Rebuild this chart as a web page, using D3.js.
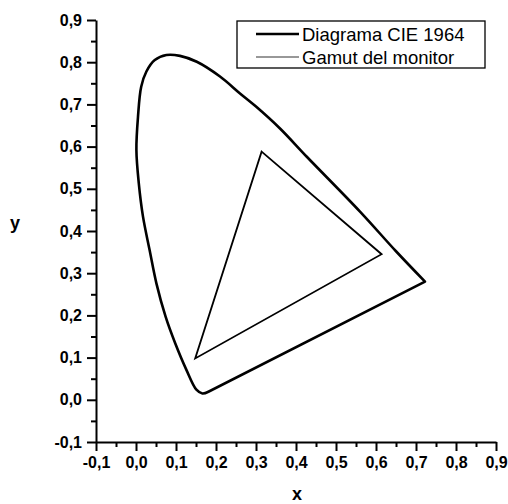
<!DOCTYPE html>
<html><head><meta charset="utf-8">
<script src="https://cdn.jsdelivr.net/npm/d3@7"></script>
<style>body{margin:0;background:#fff}svg{display:block}text{font-family:"Liberation Sans",Arial,sans-serif;fill:#000}</style>
</head><body>
<svg id="c" width="508" height="504"></svg>
<script>
// Spectral locus (CIE 1964), from red end along the top to the blue end
const locusX = [0.7225, 0.65, 0.56, 0.427, 0.36, 0.30, 0.26, 0.21, 0.152, 0.11, 0.076, 0.047, 0.026, 0.013, 0.005, 0.001, 0.007, 0.0175, 0.034, 0.051, 0.074, 0.098, 0.126, 0.151, 0.166, 0.181];
const locusY = [0.280, 0.352, 0.446, 0.576, 0.643, 0.695, 0.726, 0.766, 0.801, 0.815, 0.817, 0.805, 0.778, 0.742, 0.671, 0.592, 0.513, 0.434, 0.355, 0.276, 0.197, 0.134, 0.071, 0.024, 0.015, 0.019];
// Monitor gamut triangle
const gamutX = [0.314, 0.614, 0.148];
const gamutY = [0.588, 0.345, 0.098];
const seriesNames = ["Diagrama CIE 1964", "Gamut del monitor"];
const tickValues = [-0.1, 0.0, 0.1, 0.2, 0.3, 0.4, 0.5, 0.6, 0.7, 0.8, 0.9];
const minorValues = [-0.05, 0.05, 0.15, 0.25, 0.35, 0.45, 0.55, 0.65, 0.75, 0.85];

const svg = d3.select("#c");
const x = d3.scaleLinear().domain([-0.1, 0.9]).range([96, 496]);
const y = d3.scaleLinear().domain([-0.1, 0.9]).range([442, 20]);
const fmt = d => d3.format(".1f")(d).replace(".", ",").replace("−", "-");

// axes
const xAxis = svg.append("g").attr("transform", "translate(0,442)")
  .call(d3.axisBottom(x).tickValues(tickValues).tickFormat(fmt).tickSize(9).tickPadding(6).tickSizeOuter(0));
const yAxis = svg.append("g").attr("transform", "translate(96,0)")
  .call(d3.axisLeft(y).tickValues(tickValues).tickFormat(fmt).tickSize(9).tickPadding(5).tickSizeOuter(0));
[xAxis, yAxis].forEach(a => {
  a.select(".domain").attr("stroke", "#000").attr("stroke-width", 2);
  a.selectAll(".tick line").attr("stroke", "#000").attr("stroke-width", 2);
  a.selectAll(".tick text").attr("font-size", 16).attr("font-weight", "bold")
    .attr("font-family", "Liberation Sans, Arial, sans-serif").attr("fill", "#000");
});
svg.append("g").attr("transform", "translate(0,442)")
  .call(d3.axisBottom(x).tickValues(minorValues).tickFormat("").tickSize(5).tickSizeOuter(0))
  .call(g => { g.select(".domain").remove(); g.selectAll("line").attr("stroke", "#000").attr("stroke-width", 2); });
svg.append("g").attr("transform", "translate(96,0)")
  .call(d3.axisLeft(y).tickValues(minorValues).tickFormat("").tickSize(5).tickSizeOuter(0))
  .call(g => { g.select(".domain").remove(); g.selectAll("line").attr("stroke", "#000").attr("stroke-width", 2); });

// axis titles
svg.append("text").attr("x", 297).attr("y", 500).attr("text-anchor", "middle").attr("font-size", 18).attr("font-weight", "bold").text("x");
svg.append("text").attr("x", 15).attr("y", 229).attr("text-anchor", "middle").attr("font-size", 18).attr("font-weight", "bold").text("y");

// locus
const locus = locusX.map((v, i) => [v, locusY[i]]);
const lineC = d3.line().x(d => x(d[0])).y(d => y(d[1])).curve(d3.curveCatmullRom.alpha(0.5));
svg.append("path").attr("d", lineC(locus) + "Z")
  .attr("fill", "none").attr("stroke", "#000").attr("stroke-width", 2.6).attr("stroke-linejoin", "round");

// gamut
const gamut = gamutX.map((v, i) => [v, gamutY[i]]);
const lineL = d3.line().x(d => x(d[0])).y(d => y(d[1]));
svg.append("path").attr("d", lineL(gamut) + "Z")
  .attr("fill", "none").attr("stroke", "#000").attr("stroke-width", 1.8).attr("stroke-linejoin", "miter");

// legend
const lg = svg.append("g");
lg.append("rect").attr("x", 237).attr("y", 21).attr("width", 248).attr("height", 47)
  .attr("fill", "#fff").attr("stroke", "#000").attr("stroke-width", 1.3);
const widths = [2.4, 1.2];
const colors = ["#000", "#333"];
seriesNames.forEach((n, i) => {
  const yy = 34 + i * 23;
  lg.append("line").attr("x1", 256).attr("x2", 299).attr("y1", yy).attr("y2", yy)
    .attr("stroke", colors[i]).attr("stroke-width", widths[i]);
  lg.append("text").attr("x", 302).attr("y", yy + 6.5).attr("font-size", 18.5).text(n);
});
</script>
</body></html>
